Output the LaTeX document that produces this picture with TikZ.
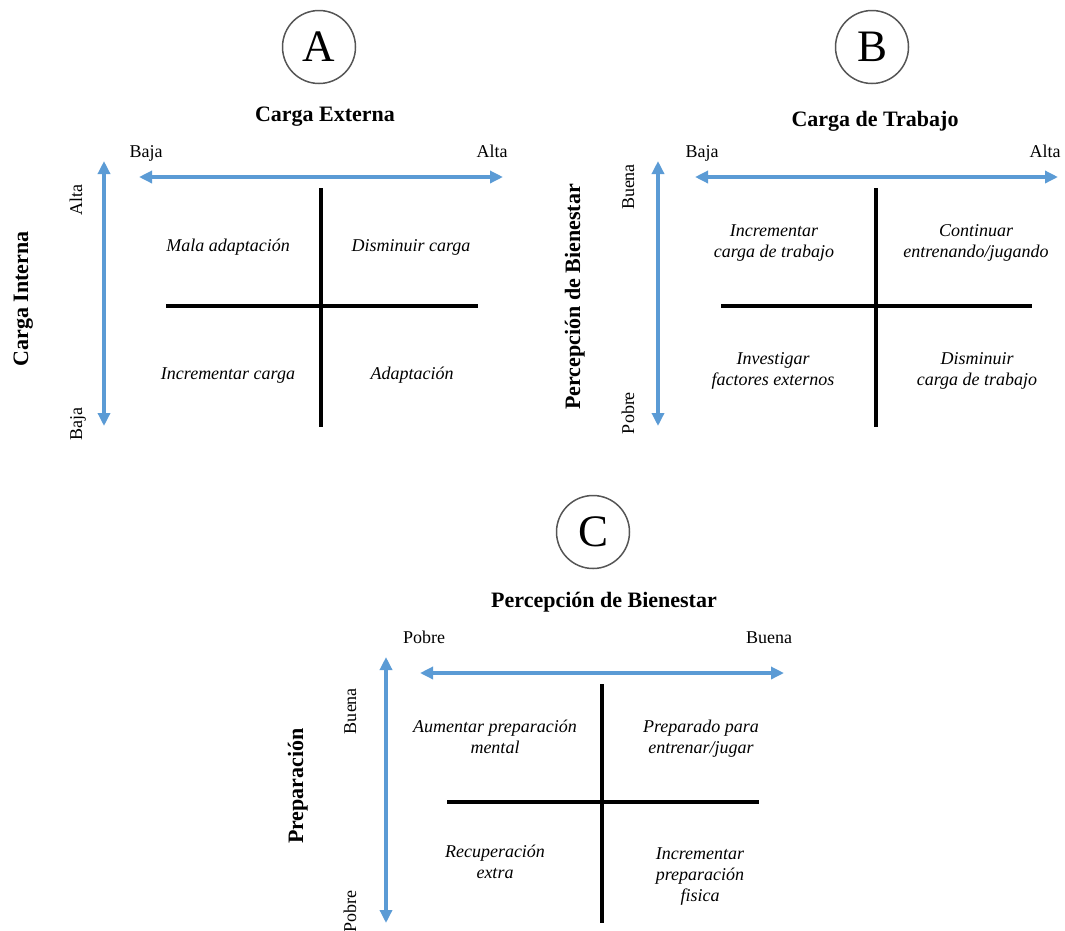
\documentclass[tikz,border=0pt]{standalone}
\usepackage{fontspec}
\setmainfont{Liberation Serif}
\usetikzlibrary{arrows.meta}
\definecolor{axisblue}{RGB}{91,155,213}
\definecolor{ringgray}{RGB}{85,85,85}
\tikzset{
  letter/.style={circle, draw=ringgray, line width=1.5pt, minimum size=73pt, inner sep=0pt, font=\fontsize{45}{45}\selectfont},
  paneltitle/.style={anchor=base, inner sep=0pt, font=\fontsize{22}{26}\selectfont\bfseries},
  sidetitle/.style={anchor=base, rotate=90, inner sep=0pt, font=\fontsize{22}{26}\selectfont\bfseries},
  endlabel/.style={anchor=base, inner sep=0pt, font=\fontsize{18}{21}\selectfont},
  sidelabel/.style={anchor=base, rotate=90, inner sep=0pt, font=\fontsize{18}{21}\selectfont},
  quad/.style={anchor=base, align=center, inner sep=0pt, font=\fontsize{18}{21}\selectfont\itshape},
  axisarrow/.style={draw=axisblue, line width=4pt, {Triangle[length=13pt,width=12pt]}-{Triangle[length=13pt,width=12pt]}},
  divider/.style={draw=black, line width=3.5pt},
}
\begin{document}
\begin{tikzpicture}[x=1pt,y=-1pt]
\useasboundingbox (0,0) rectangle (1065,930);
% ---------------- Panel A ----------------
\node[letter] (cA) at (319,47) {A};
\node[paneltitle] (tA) at (325,121) {Carga Externa};
\node[endlabel] (aLo) at (146,157) {Baja};
\node[endlabel] (aHi) at (492,157) {Alta};
\coordinate (aHl) at (139,177); \coordinate (aHr) at (503,177);
\draw[axisarrow] (aHl) -- (aHr);
\coordinate (aVt) at (104,161); \coordinate (aVb) at (104,426);
\draw[axisarrow] (aVt) -- (aVb);
\node[sidelabel] (aVhi) at (82,200) {Alta};
\node[sidelabel] (aVlo) at (82,424) {Baja};
\node[sidetitle] (sA) at (28,299) {Carga Interna};
\coordinate (aLt) at (321,188); \coordinate (aLb) at (321,427);
\coordinate (aLl) at (166,306); \coordinate (aLr) at (478,306);
\draw[divider] (aLt) -- (aLb);
\draw[divider] (aLl) -- (aLr);
\node[quad] (qA1) at (228,251) {Mala adaptación};
\node[quad] (qA2) at (411,251) {Disminuir carga};
\node[quad] (qA3) at (228,379) {Incrementar carga};
\node[quad] (qA4) at (412,379) {Adaptación};
% ---------------- Panel B ----------------
\node[letter] (cB) at (872,47) {B};
\node[paneltitle] (tB) at (875,126) {Carga de Trabajo};
\node[endlabel] (bLo) at (702,157) {Baja};
\node[endlabel] (bHi) at (1045,157) {Alta};
\coordinate (bHl) at (695,177); \coordinate (bHr) at (1058,177);
\draw[axisarrow] (bHl) -- (bHr);
\coordinate (bVt) at (658,161); \coordinate (bVb) at (658,426);
\draw[axisarrow] (bVt) -- (bVb);
\node[sidelabel] (bVhi) at (634,187) {Buena};
\node[sidelabel] (bVlo) at (634,413) {Pobre};
\node[sidetitle] (sB) at (580,297) {Percepción de Bienestar};
\coordinate (bLt) at (876,188); \coordinate (bLb) at (876,427);
\coordinate (bLl) at (721,306); \coordinate (bLr) at (1032,306);
\draw[divider] (bLt) -- (bLb);
\draw[divider] (bLl) -- (bLr);
\node[quad] (qB1) at (774,257) {Incrementar\\carga de trabajo};
\node[quad] (qB2) at (976,257) {Continuar\\entrenando/jugando};
\node[quad] (qB3) at (773,385) {Investigar\\factores externos};
\node[quad] (qB4) at (977,385) {Disminuir\\carga de trabajo};
% ---------------- Panel C ----------------
\node[letter] (cC) at (593,532) {C};
\node[paneltitle] (tC) at (604,607) {Percepción de Bienestar};
\node[endlabel] (cLo) at (424,643) {Pobre};
\node[endlabel] (cHi) at (769,643) {Buena};
\coordinate (cHl) at (420,673); \coordinate (cHr) at (784,673);
\draw[axisarrow] (cHl) -- (cHr);
\coordinate (cVt) at (386,657); \coordinate (cVb) at (386,923);
\draw[axisarrow] (cVt) -- (cVb);
\node[sidelabel] (cVhi) at (356,711) {Buena};
\node[sidelabel] (cVlo) at (356,911) {Pobre};
\node[sidetitle] (sC) at (303,786) {Preparación};
\coordinate (cLt) at (602,684); \coordinate (cLb) at (602,923);
\coordinate (cLl) at (447,802); \coordinate (cLr) at (759,802);
\draw[divider] (cLt) -- (cLb);
\draw[divider] (cLl) -- (cLr);
\node[quad] (qC1) at (495,753) {Aumentar preparación\\mental};
\node[quad] (qC2) at (701,753) {Preparado para\\entrenar/jugar};
\node[quad] (qC3) at (495,878) {Recuperación\\extra};
\node[quad] (qC4) at (700,901) {Incrementar\\preparación\\fisica};
\end{tikzpicture}
\end{document}
